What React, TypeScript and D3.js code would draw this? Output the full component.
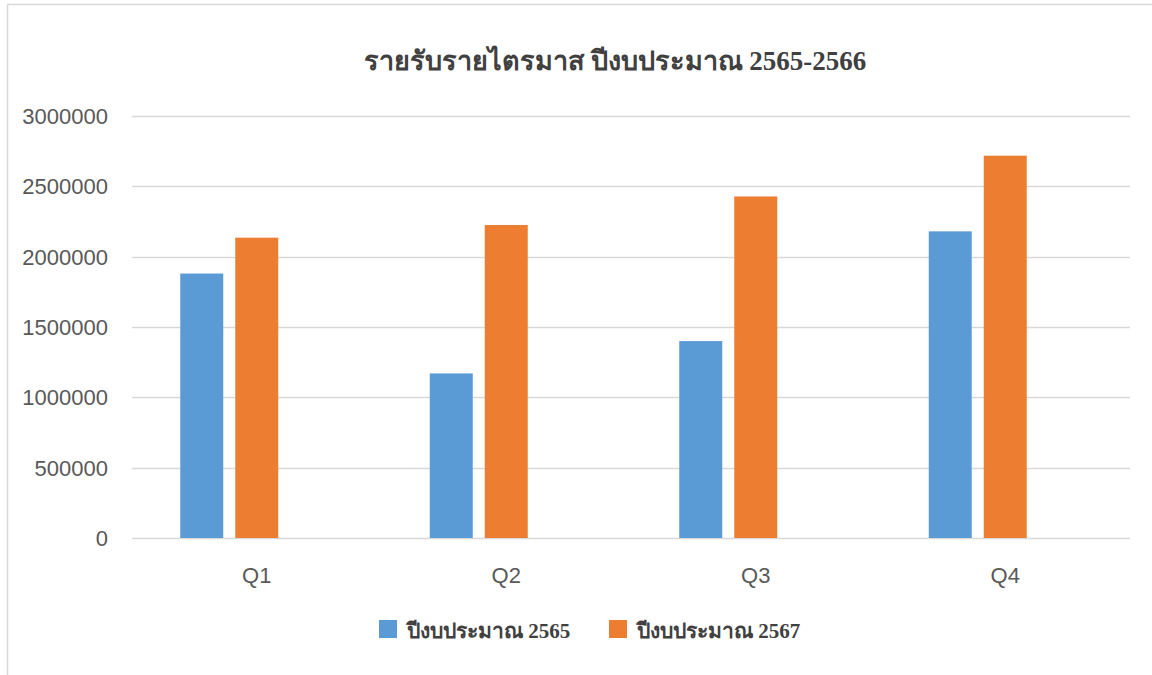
import { useEffect, useRef } from "react";
import * as d3 from "d3";

const quarters = ["Q1", "Q2", "Q3", "Q4"];
const seriesNames = ["ปีงบประมาณ 2565", "ปีงบประมาณ 2567"];
const values2565 = [1880000, 1170000, 1400000, 2180000];
const values2567 = [2135000, 2225000, 2428000, 2718000];
const yTicks = [0, 500000, 1000000, 1500000, 2000000, 2500000, 3000000];
const title = "รายรับรายไตรมาส ปีงบประมาณ 2565-2566";

const colors = ["#5b9bd5", "#ed7d31"];

export default function App() {
  const svgRef = useRef<SVGSVGElement | null>(null);

  useEffect(() => {
    const width = 1152;
    const height = 675;
    const margin = { top: 116, right: 22, bottom: 137, left: 132 };

    const svg = d3.select(svgRef.current);
    svg.selectAll("*").remove();
    svg.attr("width", width).attr("height", height).style("background", "#fff");

    // chart frame (only top and left edges visible in the crop)
    svg
      .append("path")
      .attr("d", `M7.5,${height} V4.5 H${width}`)
      .attr("fill", "none")
      .attr("stroke", "#d9d9d9")
      .attr("stroke-width", 1.5);

    const x0 = d3
      .scaleBand()
      .domain(quarters)
      .range([margin.left, width - margin.right]);

    // third slot stays empty, as in the original chart
    const groupW = 153;
    const x1 = d3
      .scaleBand()
      .domain(["a", "b", "c"])
      .range([(x0.bandwidth() - groupW) / 2, (x0.bandwidth() + groupW) / 2])
      .paddingInner(12 / 55);

    const y = d3
      .scaleLinear()
      .domain([0, 3000000])
      .range([height - margin.bottom, margin.top]);

    const grid = svg.append("g");
    grid
      .selectAll("line")
      .data(yTicks)
      .enter()
      .append("line")
      .attr("x1", margin.left)
      .attr("x2", width - margin.right)
      .attr("y1", (d) => Math.round(y(d)) + 0.5)
      .attr("y2", (d) => Math.round(y(d)) + 0.5)
      .attr("stroke", "#d9d9d9")
      .attr("stroke-width", 1.5);

    grid
      .selectAll("text")
      .data(yTicks)
      .enter()
      .append("text")
      .attr("x", 108)
      .attr("y", (d) => y(d) + 8)
      .attr("text-anchor", "end")
      .attr("fill", "#595959")
      .style("font-family", "'Liberation Sans', Arial, sans-serif")
      .style("font-size", "22px")
      .text((d) => String(d));

    const series = [values2565, values2567];
    const keys = ["a", "b"];
    series.forEach((vals, i) => {
      svg
        .append("g")
        .selectAll("rect")
        .data(vals)
        .enter()
        .append("rect")
        .attr("x", (d, j) => (x0(quarters[j]) as number) + (x1(keys[i]) as number))
        .attr("y", (d) => y(d))
        .attr("width", x1.bandwidth())
        .attr("height", (d) => y(0) - y(d))
        .attr("fill", colors[i]);
    });

    svg
      .append("g")
      .selectAll("text")
      .data(quarters)
      .enter()
      .append("text")
      .attr("x", (d) => (x0(d) as number) + x0.bandwidth() / 2)
      .attr("y", 583)
      .attr("text-anchor", "middle")
      .attr("fill", "#595959")
      .style("font-family", "'Liberation Sans', Arial, sans-serif")
      .style("font-size", "22px")
      .text((d) => d);

    svg
      .append("text")
      .attr("x", 615)
      .attr("y", 70)
      .attr("text-anchor", "middle")
      .attr("fill", "#404040")
      .style("font-family", "'Liberation Serif', 'DejaVu Serif', serif")
      .style("font-weight", "bold")
      .style("font-size", "27px")
      .text(title);

    const legendX = [379, 609];
    const legend = svg.append("g");
    seriesNames.forEach((name, i) => {
      legend
        .append("rect")
        .attr("x", legendX[i])
        .attr("y", 620)
        .attr("width", 18)
        .attr("height", 18)
        .attr("fill", colors[i]);
      legend
        .append("text")
        .attr("x", legendX[i] + 28)
        .attr("y", 638)
        .attr("fill", "#404040")
        .style("font-family", "'Liberation Serif', 'DejaVu Serif', serif")
        .style("font-weight", "bold")
        .style("font-size", "21px")
        .text(name);
    });
  }, []);

  return (
    <svg
      ref={svgRef}
      style={{ position: "absolute", left: 0, top: 0, display: "block" }}
    ></svg>
  );
}
